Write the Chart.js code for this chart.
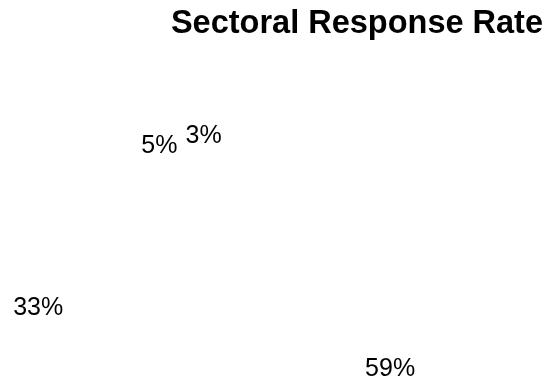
<!DOCTYPE html>
<html>
<head>
<meta charset="utf-8">
<script src="https://cdn.jsdelivr.net/npm/chart.js@4.4.1/dist/chart.umd.min.js"></script>
<style>
    html, body { margin: 0; padding: 0; background: #fff; overflow: hidden; }
    /* the pie sits low and left, so the canvas is larger than the view and clipped */
    #view { position: relative; width: 546px; height: 385px; overflow: hidden; }
    #wrap { position: absolute; left: -107px; top: 0; width: 653px; height: 578px; }
</style>
</head>
<body>
<div id="view"><div id="wrap"><canvas id="sectorChart"></canvas></div></div>
<script>
// Response share per sector (percent)
const sectors = ['Sector A', 'Sector B', 'Sector C', 'Sector D'];
const responseRates = [3, 59, 33, 5];

// Draws "<value>%" just outside each slice, along its middle angle
const outsideLabels = {
    id: 'outsideLabels',
    afterDatasetsDraw(chart, args, opts) {
        const { ctx } = chart;
        const meta = chart.getDatasetMeta(0);
        const values = chart.data.datasets[0].data;
        ctx.save();
        ctx.font = opts.font;
        ctx.fillStyle = opts.color;
        ctx.textAlign = 'center';
        ctx.textBaseline = 'middle';
        meta.data.forEach((arc, i) => {
            const { x, y, startAngle, endAngle, outerRadius } = arc.getProps(
                ['x', 'y', 'startAngle', 'endAngle', 'outerRadius'], true);
            const mid = (startAngle + endAngle) / 2;
            const r = outerRadius + opts.offset;
            ctx.fillText(values[i] + '%', x + Math.cos(mid) * r, y + Math.sin(mid) * r);
        });
        ctx.restore();
    }
};

new Chart(document.getElementById('sectorChart'), {
    type: 'pie',
    data: {
        labels: sectors,
        datasets: [{
            data: responseRates,
            backgroundColor: '#ffffff',
            borderColor: '#ffffff',
            borderWidth: 0
        }]
    },
    plugins: [outsideLabels],
    options: {
        responsive: true,
        maintainAspectRatio: false,
        animation: false,
        rotation: -10,
        radius: 150,
        layout: {
            padding: { left: 0, right: 3, top: 0, bottom: 0 }
        },
        plugins: {
            legend: { display: false },
            tooltip: { enabled: false },
            title: {
                display: true,
                text: 'Sectoral Response Rate',
                align: 'end',
                color: '#000',
                font: { family: 'Liberation Sans, Arial, sans-serif', size: 32.5, weight: 'bold' },
                padding: { top: 5, bottom: 10 }
            },
            outsideLabels: {
                font: '25px "Liberation Sans", Arial, sans-serif',
                color: '#000',
                offset: 30
            }
        }
    }
});
</script>
</body>
</html>
